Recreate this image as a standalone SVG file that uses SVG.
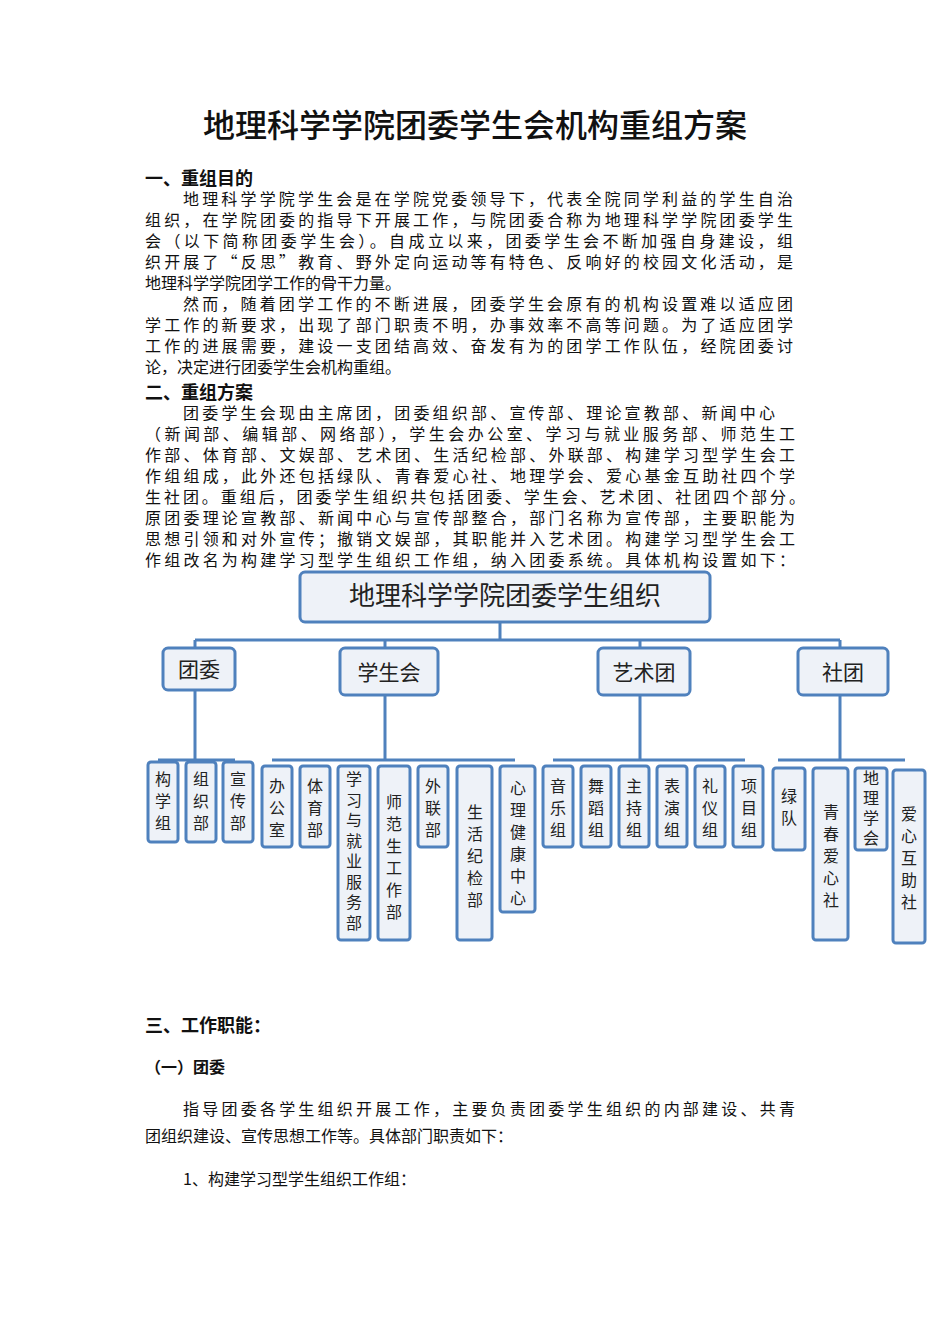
<svg xmlns="http://www.w3.org/2000/svg" width="950" height="1344" viewBox="0 0 950 1344">
<style>
.t{font-family:"Noto Sans CJK SC","Noto Sans",sans-serif;font-size:16px;fill:#111}
.h{font-family:"Noto Sans CJK SC",sans-serif;font-size:18px;font-weight:bold;fill:#111}
.b{fill:#eef2f8;stroke:#4f81bd;stroke-width:3}
.l{stroke:#4f81bd;stroke-width:3;fill:none}
.n{font-family:"Noto Sans CJK SC",sans-serif;font-size:16px;fill:#222;text-anchor:middle}
</style>
<rect width="950" height="1344" fill="#fff"/>
<text x="475" y="137" class="t" style="font-size:32px;font-weight:500" text-anchor="middle">地理科学学院团委学生会机构重组方案</text>
<text x="145" y="185" class="h">一、重组目的</text>
<g class="t">
<text x="183" y="205" textLength="610" lengthAdjust="spacing">地理科学学院学生会是在学院党委领导下，代表全院同学利益的学生自治</text>
<text x="145" y="226" textLength="648" lengthAdjust="spacing">组织，在学院团委的指导下开展工作，与院团委合称为地理科学学院团委学生</text>
<text x="145" y="247" textLength="648" lengthAdjust="spacing">会（以下简称团委学生会）。自成立以来，团委学生会不断加强自身建设，组</text>
<text x="145" y="268" textLength="648" lengthAdjust="spacing">织开展了“反思”教育、野外定向运动等有特色、反响好的校园文化活动，是</text>
<text x="145" y="289">地理科学学院团学工作的骨干力量。</text>
<text x="183" y="310" textLength="610" lengthAdjust="spacing">然而，随着团学工作的不断进展，团委学生会原有的机构设置难以适应团</text>
<text x="145" y="331" textLength="648" lengthAdjust="spacing">学工作的新要求，出现了部门职责不明，办事效率不高等问题。为了适应团学</text>
<text x="145" y="352" textLength="648" lengthAdjust="spacing">工作的进展需要，建设一支团结高效、奋发有为的团学工作队伍，经院团委讨</text>
<text x="145" y="373">论，决定进行团委学生会机构重组。</text>
</g>
<text x="145" y="399" class="h">二、重组方案</text>
<g class="t">
<text x="183" y="419" textLength="592" lengthAdjust="spacing">团委学生会现由主席团，团委组织部、宣传部、理论宣教部、新闻中心</text>
<text x="145" y="440" textLength="650" lengthAdjust="spacing">（新闻部、编辑部、网络部），学生会办公室、学习与就业服务部、师范生工</text>
<text x="145" y="461" textLength="650" lengthAdjust="spacing">作部、体育部、文娱部、艺术团、生活纪检部、外联部、构建学习型学生会工</text>
<text x="145" y="482" textLength="650" lengthAdjust="spacing">作组组成，此外还包括绿队、青春爱心社、地理学会、爱心基金互助社四个学</text>
<text x="145" y="503" textLength="660" lengthAdjust="spacing">生社团。重组后，团委学生组织共包括团委、学生会、艺术团、社团四个部分。</text>
<text x="145" y="524" textLength="650" lengthAdjust="spacing">原团委理论宣教部、新闻中心与宣传部整合，部门名称为宣传部，主要职能为</text>
<text x="145" y="545" textLength="650" lengthAdjust="spacing">思想引领和对外宣传；撤销文娱部，其职能并入艺术团。构建学习型学生会工</text>
<text x="145" y="566" textLength="650" lengthAdjust="spacing">作组改名为构建学习型学生组织工作组，纳入团委系统。具体机构设置如下：</text>
</g>
<g id="connectors" class="l">
<path d="M500 622V640M195 640H840M195 640V648M385 640V648M640 640V648M840 640V648"/>
<path d="M195 690V760M158 760H235M385 695V760M272 760H515M640 695V760M553 760H745M840 695V760M778 760H905"/>
</g>
<g id="root"><rect class="b" x="300" y="572" width="410" height="50" rx="5"/><text x="505" y="605" class="n" style="font-size:26px">地理科学学院团委学生组织</text></g>
<g id="n-tuanwei"><rect class="b" x="163" y="648" width="72" height="42" rx="5"/><text x="199" y="677" class="n" style="font-size:21px">团委</text></g>
<g id="n-xsh"><rect class="b" x="340" y="648" width="98" height="47" rx="5"/><text x="389" y="680" class="n" style="font-size:21px">学生会</text></g>
<g id="n-yst"><rect class="b" x="598" y="648" width="92" height="47" rx="5"/><text x="644" y="680" class="n" style="font-size:21px">艺术团</text></g>
<g id="n-st"><rect class="b" x="798" y="648" width="90" height="47" rx="5"/><text x="843" y="680" class="n" style="font-size:21px">社团</text></g>
<g id="leaf1"><rect class="b" x="148" y="762" width="30" height="80" rx="3"/><text class="n"><tspan x="163" y="785">构</tspan><tspan x="163" y="807">学</tspan><tspan x="163" y="829">组</tspan></text></g>
<g id="leaf2"><rect class="b" x="186" y="762" width="30" height="80" rx="3"/><text class="n"><tspan x="201" y="785">组</tspan><tspan x="201" y="807">织</tspan><tspan x="201" y="829">部</tspan></text></g>
<g id="leaf3"><rect class="b" x="223" y="762" width="30" height="80" rx="3"/><text class="n"><tspan x="238" y="785">宣</tspan><tspan x="238" y="807">传</tspan><tspan x="238" y="829">部</tspan></text></g>
<g id="leaf4"><rect class="b" x="262" y="766" width="30" height="81" rx="3"/><text class="n"><tspan x="277" y="792">办</tspan><tspan x="277" y="814">公</tspan><tspan x="277" y="836">室</tspan></text></g>
<g id="leaf5"><rect class="b" x="300" y="766" width="30" height="81" rx="3"/><text class="n"><tspan x="315" y="792">体</tspan><tspan x="315" y="814">育</tspan><tspan x="315" y="836">部</tspan></text></g>
<g id="leaf6"><rect class="b" x="338" y="766" width="32" height="174" rx="3"/><text class="n"><tspan x="354" y="785">学</tspan><tspan x="354" y="805.5">习</tspan><tspan x="354" y="826">与</tspan><tspan x="354" y="846.5">就</tspan><tspan x="354" y="867">业</tspan><tspan x="354" y="887.5">服</tspan><tspan x="354" y="908">务</tspan><tspan x="354" y="928.5">部</tspan></text></g>
<g id="leaf7"><rect class="b" x="378" y="766" width="32" height="174" rx="3"/><text class="n"><tspan x="394" y="808">师</tspan><tspan x="394" y="830">范</tspan><tspan x="394" y="852">生</tspan><tspan x="394" y="874">工</tspan><tspan x="394" y="896">作</tspan><tspan x="394" y="918">部</tspan></text></g>
<g id="leaf8"><rect class="b" x="418" y="766" width="30" height="81" rx="3"/><text class="n"><tspan x="433" y="792">外</tspan><tspan x="433" y="814">联</tspan><tspan x="433" y="836">部</tspan></text></g>
<g id="leaf9"><rect class="b" x="457" y="766" width="35" height="174" rx="3"/><text class="n"><tspan x="475" y="818">生</tspan><tspan x="475" y="840">活</tspan><tspan x="475" y="862">纪</tspan><tspan x="475" y="884">检</tspan><tspan x="475" y="906">部</tspan></text></g>
<g id="leaf10"><rect class="b" x="500" y="766" width="35" height="146" rx="3"/><text class="n"><tspan x="518" y="794">心</tspan><tspan x="518" y="816">理</tspan><tspan x="518" y="838">健</tspan><tspan x="518" y="860">康</tspan><tspan x="518" y="882">中</tspan><tspan x="518" y="904">心</tspan></text></g>
<g id="leaf11"><rect class="b" x="543" y="766" width="30" height="81" rx="3"/><text class="n"><tspan x="558" y="792">音</tspan><tspan x="558" y="814">乐</tspan><tspan x="558" y="836">组</tspan></text></g>
<g id="leaf12"><rect class="b" x="581" y="766" width="30" height="81" rx="3"/><text class="n"><tspan x="596" y="792">舞</tspan><tspan x="596" y="814">蹈</tspan><tspan x="596" y="836">组</tspan></text></g>
<g id="leaf13"><rect class="b" x="619" y="766" width="30" height="81" rx="3"/><text class="n"><tspan x="634" y="792">主</tspan><tspan x="634" y="814">持</tspan><tspan x="634" y="836">组</tspan></text></g>
<g id="leaf14"><rect class="b" x="657" y="766" width="30" height="81" rx="3"/><text class="n"><tspan x="672" y="792">表</tspan><tspan x="672" y="814">演</tspan><tspan x="672" y="836">组</tspan></text></g>
<g id="leaf15"><rect class="b" x="695" y="766" width="30" height="81" rx="3"/><text class="n"><tspan x="710" y="792">礼</tspan><tspan x="710" y="814">仪</tspan><tspan x="710" y="836">组</tspan></text></g>
<g id="leaf16"><rect class="b" x="733" y="766" width="30" height="81" rx="3"/><text class="n"><tspan x="749" y="792">项</tspan><tspan x="749" y="814">目</tspan><tspan x="749" y="836">组</tspan></text></g>
<g id="leaf17"><rect class="b" x="773" y="768" width="32" height="82" rx="3"/><text class="n"><tspan x="789" y="802">绿</tspan><tspan x="789" y="824">队</tspan></text></g>
<g id="leaf18"><rect class="b" x="813" y="768" width="35" height="172" rx="3"/><text class="n"><tspan x="831" y="818">青</tspan><tspan x="831" y="840">春</tspan><tspan x="831" y="862">爱</tspan><tspan x="831" y="884">心</tspan><tspan x="831" y="906">社</tspan></text></g>
<g id="leaf19"><rect class="b" x="855" y="768" width="32" height="82" rx="3"/><text class="n"><tspan x="871" y="784">地</tspan><tspan x="871" y="804">理</tspan><tspan x="871" y="824">学</tspan><tspan x="871" y="844">会</tspan></text></g>
<g id="leaf20"><rect class="b" x="893" y="770" width="32" height="173" rx="3"/><text class="n"><tspan x="909" y="820">爱</tspan><tspan x="909" y="842">心</tspan><tspan x="909" y="864">互</tspan><tspan x="909" y="886">助</tspan><tspan x="909" y="908">社</tspan></text></g>
<text x="145" y="1032" class="h">三、工作职能：</text>
<text x="145" y="1073" class="t" style="font-weight:bold">（一）团委</text>
<g class="t">
<text x="183" y="1115" textLength="612" lengthAdjust="spacing">指导团委各学生组织开展工作，主要负责团委学生组织的内部建设、共青</text>
<text x="145" y="1142">团组织建设、宣传思想工作等。具体部门职责如下：</text>
<text x="183" y="1185">1、构建学习型学生组织工作组：</text>
</g>
</svg>
